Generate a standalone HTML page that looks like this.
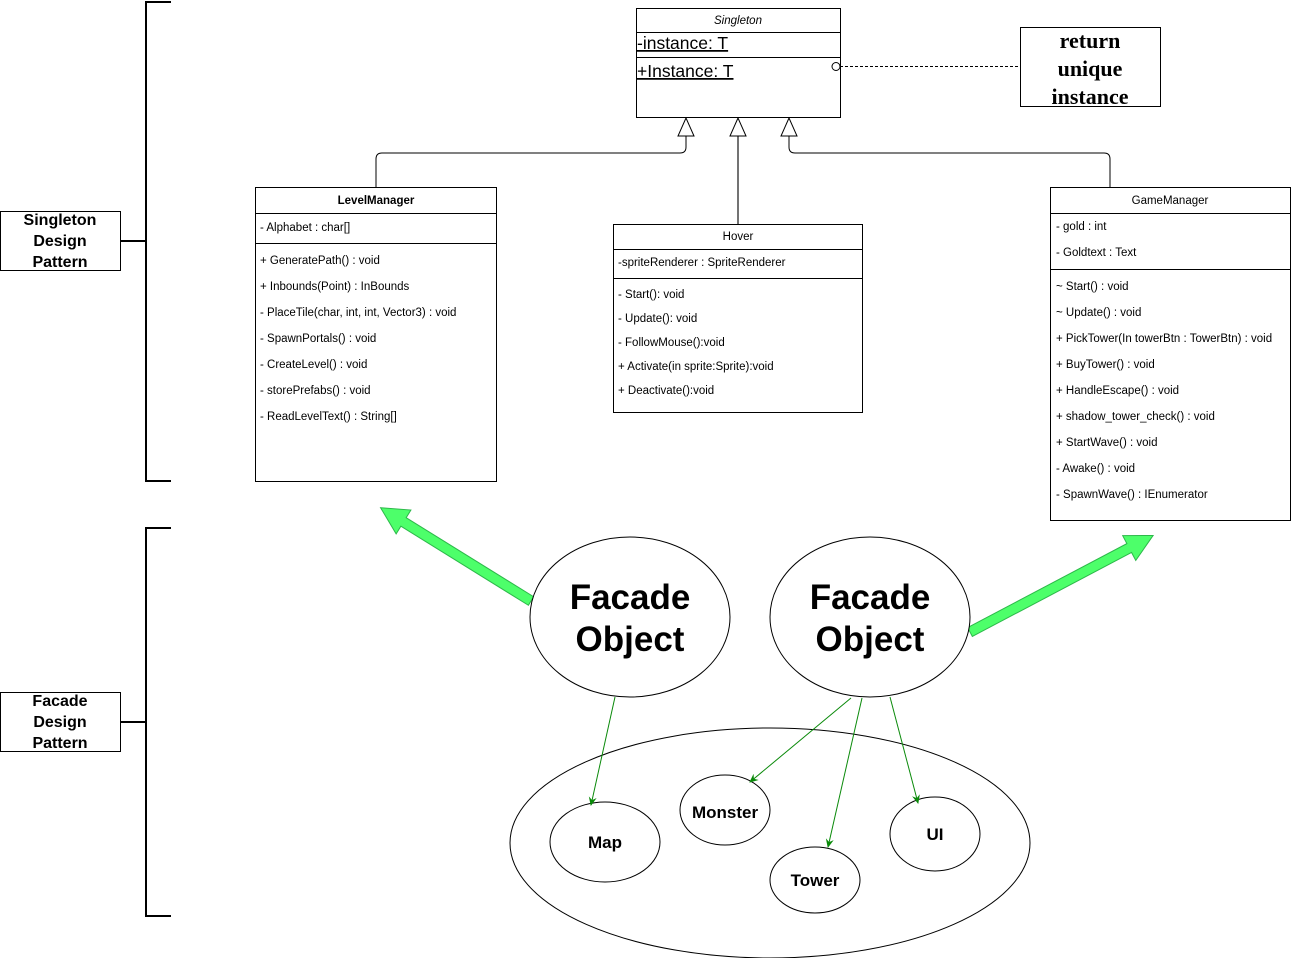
<!DOCTYPE html>
<html><head><meta charset="utf-8"><style>
html,body{margin:0;padding:0;background:#fff;}
svg{display:block;font-family:"Liberation Sans",sans-serif;}
.t{font-size:11.5px;fill:#000;}
</style></head><body>
<svg width="1291" height="958" viewBox="0 0 1291 958" xmlns="http://www.w3.org/2000/svg">
<defs>
<marker id="ga" markerWidth="10" markerHeight="10" refX="8" refY="5" orient="auto" markerUnits="userSpaceOnUse"><path d="M0,1 L9,5 L0,9 L3,5 Z" fill="#0a8a0a"/></marker>
</defs>
<g fill="none" stroke="#000" stroke-width="2">
<path d="M171,2 H146 V481 H171 M146,241 H121"/>
<path d="M171,528 H146 V916 H171 M146,722 H121"/>
</g>
<rect x="0.5" y="211.5" width="120" height="59" fill="#fff" stroke="#000"/>
<text font-weight="bold" font-size="16" text-anchor="middle"><tspan x="60" y="225">Singleton</tspan><tspan x="60" y="246">Design</tspan><tspan x="60" y="267">Pattern</tspan></text>
<rect x="0.5" y="692.5" width="120" height="59" fill="#fff" stroke="#000"/>
<text font-weight="bold" font-size="16" text-anchor="middle"><tspan x="60" y="706">Facade</tspan><tspan x="60" y="727">Design</tspan><tspan x="60" y="748">Pattern</tspan></text>

<rect x="636.5" y="8.5" width="204" height="109" fill="#fff" stroke="#000"/>
<line x1="636" y1="32.5" x2="840" y2="32.5" stroke="#000"/>
<line x1="636" y1="57.5" x2="840" y2="57.5" stroke="#000"/>
<text x="738" y="24" class="t" font-style="italic" text-anchor="middle" font-size="11">Singleton</text>
<text x="637" y="49" font-size="17.5" text-decoration="underline">-instance: T</text>
<text x="637" y="77" font-size="17.5" text-decoration="underline">+Instance: T</text>
<circle cx="836" cy="66.5" r="4" fill="#fff" stroke="#000"/>
<line x1="840" y1="66.5" x2="1020" y2="66.5" stroke="#000" stroke-dasharray="3,2"/>
<rect x="1020.5" y="27.5" width="140" height="79" fill="#fff" stroke="#000"/>
<text font-family="Liberation Serif,serif" font-weight="bold" font-size="22" text-anchor="middle"><tspan x="1090" y="48">return</tspan><tspan x="1090" y="76">unique</tspan><tspan x="1090" y="104">instance</tspan></text>

<g fill="none" stroke="#000">
<path d="M376,187 V159 Q376,153 382,153 H680 Q686,153 686,147 V136"/>
<path d="M738,224 V136" stroke="#444" stroke-width="1.5"/>
<path d="M1110,187 V159 Q1110,153 1104,153 H795 Q789,153 789,147 V136"/>
</g>
<g fill="#fff" stroke="#000">
<path d="M686,118 L678,136 H694 Z"/><path d="M738,118 L730,136 H746 Z"/><path d="M789,118 L781,136 H797 Z"/>
</g>

<rect x="255.5" y="187.5" width="241" height="294" fill="#fff" stroke="#000"/>
<line x1="255" y1="213.5" x2="496" y2="213.5" stroke="#000"/>
<line x1="255" y1="243.5" x2="496" y2="243.5" stroke="#000"/>
<text x="376" y="204" class="t" font-weight="bold" text-anchor="middle" font-size="11">LevelManager</text>
<g class="t" font-size="11">
<text x="260" y="231">- Alphabet : char[]</text>
<text x="260" y="264">+ GeneratePath() : void</text>
<text x="260" y="290">+ Inbounds(Point) : InBounds</text>
<text x="260" y="316">- PlaceTile(char, int, int, Vector3) : void</text>
<text x="260" y="342">- SpawnPortals() : void</text>
<text x="260" y="368">- CreateLevel() : void</text>
<text x="260" y="394">- storePrefabs() : void</text>
<text x="260" y="420">- ReadLevelText() : String[]</text>
</g>

<rect x="613.5" y="224.5" width="249" height="188" fill="#fff" stroke="#000"/>
<line x1="613" y1="249.5" x2="862" y2="249.5" stroke="#000"/>
<line x1="613" y1="278.5" x2="862" y2="278.5" stroke="#000"/>
<text x="738" y="240" class="t" text-anchor="middle" font-size="11">Hover</text>
<g class="t" font-size="11">
<text x="618" y="266">-spriteRenderer : SpriteRenderer</text>
<text x="618" y="298">- Start(): void</text>
<text x="618" y="322">- Update(): void</text>
<text x="618" y="346">- FollowMouse():void</text>
<text x="618" y="370">+ Activate(in sprite:Sprite):void</text>
<text x="618" y="394">+ Deactivate():void</text>
</g>

<rect x="1050.5" y="187.5" width="240" height="333" fill="#fff" stroke="#000"/>
<line x1="1050" y1="213.5" x2="1290" y2="213.5" stroke="#000"/>
<line x1="1050" y1="269.5" x2="1290" y2="269.5" stroke="#000"/>
<text x="1170" y="204" class="t" text-anchor="middle" font-size="11">GameManager</text>
<g class="t" font-size="11">
<text x="1056" y="230">- gold : int</text>
<text x="1056" y="256">- Goldtext : Text</text>
<text x="1056" y="290">~ Start() : void</text>
<text x="1056" y="316">~ Update() : void</text>
<text x="1056" y="342">+ PickTower(In towerBtn : TowerBtn) : void</text>
<text x="1056" y="368">+ BuyTower() : void</text>
<text x="1056" y="394">+ HandleEscape() : void</text>
<text x="1056" y="420">+ shadow_tower_check() : void</text>
<text x="1056" y="446">+ StartWave() : void</text>
<text x="1056" y="472">- Awake() : void</text>
<text x="1056" y="498">- SpawnWave() : IEnumerator</text>
</g>

<g transform="translate(531,601) rotate(211.8)">
<polygon points="0,-5 150,-5 150,-14 177,0 150,14 150,5 0,5" fill="#4dff6a" stroke="#2db84a" stroke-width="1"/>
</g>
<g transform="translate(970,632) rotate(-27.8)">
<polygon points="0,-5 180,-5 180,-14 207,0 180,14 180,5 0,5" fill="#4dff6a" stroke="#2db84a" stroke-width="1"/>
</g>

<ellipse cx="770" cy="843" rx="260" ry="115" fill="#fff" stroke="#000"/>
<ellipse cx="630" cy="617" rx="100" ry="80" fill="#fff" stroke="#000"/>
<ellipse cx="870" cy="617" rx="100" ry="80" fill="#fff" stroke="#000"/>
<text font-weight="bold" font-size="35" text-anchor="middle"><tspan x="630" y="609">Facade</tspan><tspan x="630" y="651">Object</tspan></text>
<text font-weight="bold" font-size="35" text-anchor="middle"><tspan x="870" y="609">Facade</tspan><tspan x="870" y="651">Object</tspan></text>

<ellipse cx="605" cy="842" rx="55" ry="40" fill="#fff" stroke="#000"/>
<ellipse cx="725" cy="810" rx="45" ry="35" fill="#fff" stroke="#000"/>
<ellipse cx="815" cy="880" rx="45" ry="33" fill="#fff" stroke="#000"/>
<ellipse cx="935" cy="834" rx="45" ry="37" fill="#fff" stroke="#000"/>
<g font-weight="bold" font-size="17" text-anchor="middle">
<text x="605" y="848">Map</text><text x="725" y="818">Monster</text><text x="815" y="886">Tower</text><text x="935" y="840">UI</text>
</g>

<g stroke="#0a8a0a" stroke-width="1" fill="none" marker-end="url(#ga)">
<line x1="615" y1="697" x2="591" y2="805"/>
<line x1="851" y1="698" x2="750" y2="782"/>
<line x1="862" y1="698" x2="828" y2="847"/>
<line x1="890" y1="697" x2="918" y2="803"/>
</g>
</svg>
</body></html>
